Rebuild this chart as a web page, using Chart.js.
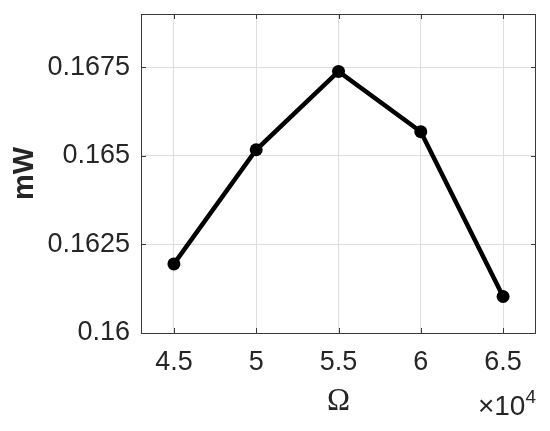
<!DOCTYPE html>
<html>
<head>
<meta charset="utf-8">
<script src="https://cdn.jsdelivr.net/npm/chart.js@4/dist/chart.umd.min.js"></script>
<style>
  html, body { margin: 0; padding: 0; background: #ffffff; }
  #wrap { width: 550px; height: 431px; }
</style>
</head>
<body>
<div id="wrap"><canvas id="cchart" width="550" height="431"></canvas></div>
<script>
// values
const omega = [45000, 50000, 55000, 60000, 65000];
const power = [0.16195, 0.16517, 0.16738, 0.16568, 0.16103];
const xTicks = [45000, 50000, 55000, 60000, 65000];
const yTicks = [0.16, 0.1625, 0.165, 0.1675];
const yTickLabels = ["0.16", "0.1625", "0.165", "0.1675"];

const axisColor = "#3a3a3a";
const textColor = "#262626";
const sansFont = "'Liberation Sans', Arial, sans-serif";

/*
    Matlab style box, inward ticks and the x10^4 exponent
*/
const matlabBox = {
    id: "matlabBox",
    afterDraw(chart) {
        const { ctx, chartArea: a, scales } = chart;
        ctx.save();
        ctx.strokeStyle = axisColor;
        ctx.lineWidth = 1;
        ctx.strokeRect(a.left + 0.5, a.top + 0.5, a.right - a.left - 1, a.bottom - a.top);

        let tl = 5;
        ctx.beginPath();
        xTicks.forEach(v => {
            let px = Math.round(scales.x.getPixelForValue(v)) + 0.5;
            ctx.moveTo(px, a.bottom); ctx.lineTo(px, a.bottom - tl);
            ctx.moveTo(px, a.top); ctx.lineTo(px, a.top + tl);
        });
        yTicks.forEach(v => {
            let py = Math.round(scales.y.getPixelForValue(v)) + 0.5;
            ctx.moveTo(a.left, py); ctx.lineTo(a.left + tl, py);
            ctx.moveTo(a.right, py); ctx.lineTo(a.right - tl, py);
        });
        ctx.stroke();

        // exponent label
        ctx.fillStyle = textColor;
        ctx.textBaseline = "alphabetic";
        ctx.textAlign = "right";
        ctx.font = "19px " + sansFont;
        ctx.fillText("4", a.right, 403);
        let w4 = ctx.measureText("4").width;
        ctx.font = "28px " + sansFont;
        ctx.fillText("\u00d710", a.right - w4, 415);
        ctx.restore();
    }
};

/*
    Fixed box sizes so the plot area sits where the reference has it
*/
function fitX(s) {
    s.height = 98;
    s.paddingLeft = 0;
    s.paddingRight = 0;
}

function fitY(s) {
    s.width = 141;
    s.paddingTop = 0;
    s.paddingBottom = 0;
}

let UICanvasChart = document.getElementById("cchart");
let _chart = new Chart(UICanvasChart.getContext("2d"), {
    type: "line",
    data: {
        datasets: [{
            label: "mW",
            data: omega.map((x, i) => ({ x: x, y: power[i] })),
            borderColor: "#000000",
            backgroundColor: "#000000",
            borderWidth: 4.5,
            pointRadius: 6.5,
            pointBorderWidth: 0,
            pointHoverRadius: 6.5,
            tension: 0,
            clip: false
        }]
    },
    options: {
        responsive: false,
        animation: false,
        events: [],
        layout: { padding: { top: 14, right: 14, left: 0, bottom: 0 } },
        plugins: {
            legend: { display: false },
            tooltip: { enabled: false }
        },
        scales: {
            x: {
                type: "linear",
                min: 43000,
                max: 67000,
                afterBuildTicks: s => { s.ticks = xTicks.map(v => ({ value: v })); },
                afterFit: fitX,
                grid: { color: "#dedede", drawTicks: false },
                border: { display: false },
                ticks: {
                    padding: 13,
                    color: textColor,
                    font: { family: sansFont, size: 27 },
                    callback: v => String(v / 10000),
                    maxRotation: 0
                },
                title: {
                    display: true,
                    text: "\u03a9",
                    color: textColor,
                    font: { family: "'Liberation Serif', 'DejaVu Serif', serif", size: 31, lineHeight: 1.2 },
                    padding: { top: 0, bottom: 11 }
                }
            },
            y: {
                type: "linear",
                min: 0.16,
                max: 0.169,
                afterBuildTicks: s => { s.ticks = yTicks.map(v => ({ value: v })); },
                afterFit: fitY,
                grid: { color: "#dedede", drawTicks: false },
                border: { display: false },
                ticks: {
                    padding: 11,
                    color: textColor,
                    font: { family: sansFont, size: 27 },
                    callback: (v, i) => yTickLabels[i]
                },
                title: {
                    display: true,
                    text: "mW",
                    color: textColor,
                    font: { family: sansFont, size: 29, weight: "bold", lineHeight: 1.2 },
                    padding: { top: 8, bottom: 0 }
                }
            }
        }
    },
    plugins: [matlabBox]
});
</script>
</body>
</html>
